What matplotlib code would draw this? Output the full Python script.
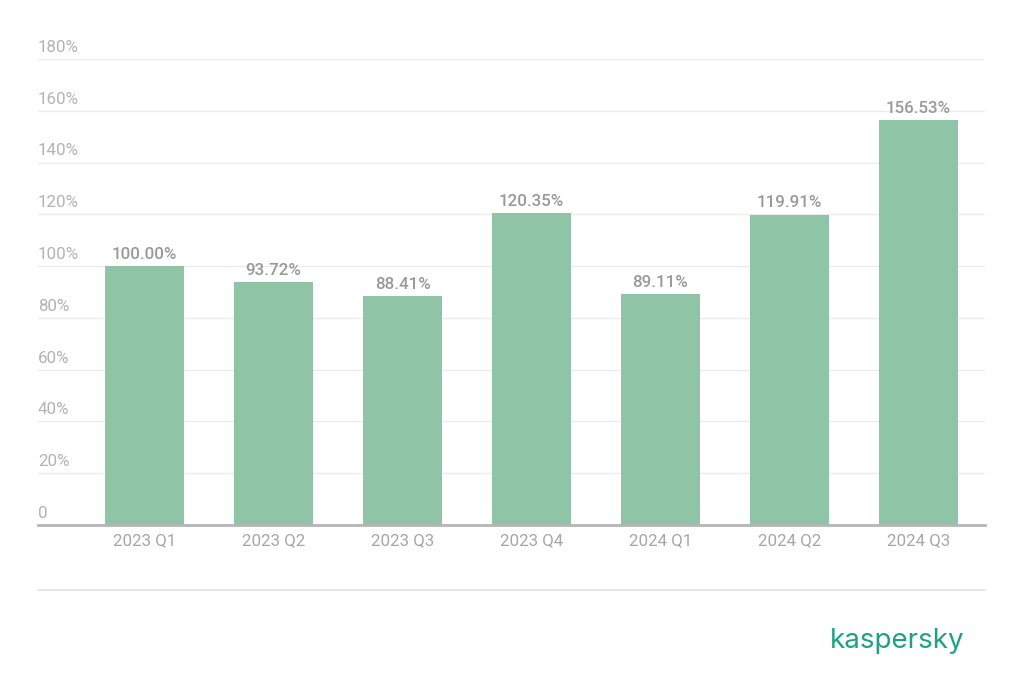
# Імпортуємо потрібні ліби.
import matplotlib
matplotlib.use("Agg")
import matplotlib.pyplot as plt
import matplotlib.transforms as mtransforms
from matplotlib.lines import Line2D

# Дані з графіка.
quarters = ["2023 Q1", "2023 Q2", "2023 Q3", "2023 Q4", "2024 Q1", "2024 Q2", "2024 Q3"]
values = [100.00, 93.72, 88.41, 120.35, 89.11, 119.91, 156.53]
y_ticks = [0, 20, 40, 60, 80, 100, 120, 140, 160, 180]
y_tick_labels = ["0", "20%", "40%", "60%", "80%", "100%", "120%", "140%", "160%", "180%"]

plt.rcParams['font.family'] = ['Roboto', 'DejaVu Sans']

bar_color = "#8fc4a7"
text_gray = "#a6a6a6"

fig = plt.figure(figsize=(10.24, 6.95), dpi=100)
ax = fig.add_axes([38 / 1024, (695 - 525) / 695, (985 - 38) / 1024, (525 - 59) / 695])

x = list(range(len(quarters)))
ax.bar(x, values, width=0.612, color=bar_color, zorder=3)

ax.set_xlim(-0.826, 6.516)
ax.set_ylim(0, 180)

# Сітка та підписи осі Y над лініями.
ax.set_yticks(y_ticks)
ax.yaxis.grid(True, color="#ececec", linewidth=1.0, zorder=0)
ax.tick_params(axis="y", length=0, labelleft=False)
trans = mtransforms.blended_transform_factory(ax.transAxes, ax.transData)
for t, lab in zip(y_ticks, y_tick_labels):
    ax.text(0.0, t + 1.6, lab, transform=trans, ha="left", va="bottom",
            fontsize=12.2, color="#b3b3b3")

ax.set_xticks(x)
ax.set_xticklabels(quarters, fontsize=12.2, color=text_gray)
ax.tick_params(axis="x", length=0, pad=6)

for s in ["top", "right", "left"]:
    ax.spines[s].set_visible(False)
ax.spines["bottom"].set_color("#b5b5b5")
ax.spines["bottom"].set_linewidth(2)
ax.spines["bottom"].set_zorder(4)

# Підписи значень над стовпцями.
for xi, v in zip(x, values):
    ax.text(xi, v + 1.6, f"{v:.2f}%", ha="center", va="bottom",
            fontsize=12.2, color="#999999", fontweight="medium")

# Роздільна лінія та логотип.
fig.add_artist(Line2D([38 / 1024, 985 / 1024], [1 - 590 / 695, 1 - 590 / 695],
                      color="#e3e3e3", linewidth=1.2))
fig.text(965 / 1024, 1 - 641 / 695, "kaspersky", ha="right", va="center",
         fontsize=20, color="#1ea283", family=["Inter", "DejaVu Sans"])

fig.savefig("out.png", dpi=100)
